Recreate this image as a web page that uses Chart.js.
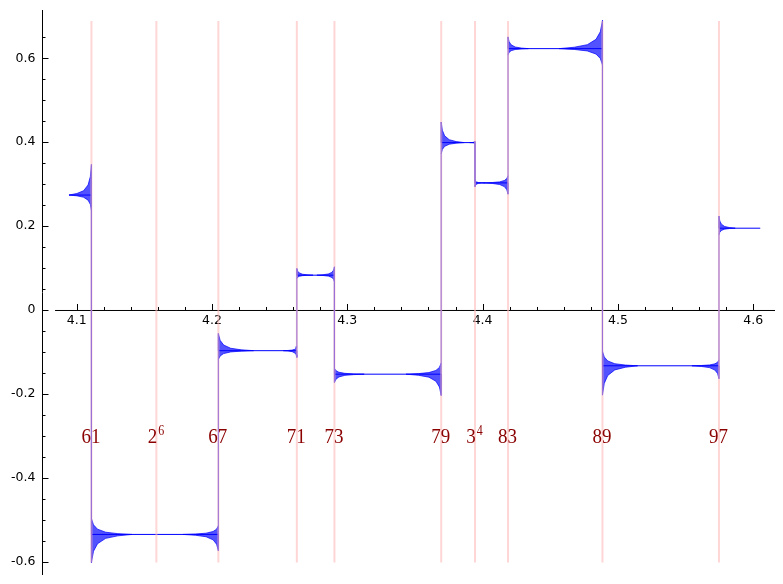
<!DOCTYPE html>
<html>
<head>
<meta charset="utf-8">
<script src="https://cdn.jsdelivr.net/npm/chart.js@4.4.1/dist/chart.umd.min.js"></script>
<style>
  html, body { margin: 0; padding: 0; background: #fff; }
</style>
</head>
<body>
<canvas id="plot" width="783" height="584"></canvas>
<script>
// x is log(n); segment edges run from log 60 to log 100
const edges = [4.0943, 4.1109, 4.2047, 4.2627, 4.2905, 4.3694, 4.3944, 4.4188, 4.4886, 4.5747, 4.6052];
const levels = [0.274, -0.535, -0.097, 0.083, -0.153, 0.399, 0.303, 0.623, -0.133, 0.195];

// ringing next to each jump (edges[1..9])
const beforeHi = [0.347, -0.514, -0.087, 0.103, -0.126, 0.402, 0.320, 0.690, -0.119];
const beforeLo = [0.237, -0.574, -0.113, 0.067, -0.204, 0.396, 0.276, 0.584, -0.164];
const beforeWidth = [0.0166, 0.026, 0.010, 0.013, 0.026, 0.004, 0.018, 0.032, 0.020];
const afterHi = [-0.497, -0.056, 0.099, -0.139, 0.448, 0.310, 0.651, -0.098, 0.224];
const afterLo = [-0.602, -0.118, 0.075, -0.173, 0.372, 0.294, 0.608, -0.203, 0.179];
const afterWidth = [0.030, 0.026, 0.012, 0.022, 0.017, 0.007, 0.015, 0.026, 0.012];
// decay profile of the ringing: [fraction of width, fraction of amplitude]
const ringShape = [[0, 1], [0.05, 0.6], [0.15, 0.33], [0.35, 0.14], [0.65, 0.05], [1, 0]];

// prime powers marked with vertical lines
const powerNames = ['61', '2^6', '67', '71', '73', '79', '3^4', '83', '89', '97'];
const powerLogs = [4.1109, 4.1589, 4.2047, 4.2627, 4.2905, 4.3694, 4.3944, 4.4188, 4.4886, 4.5747];
const markerLow = -0.602, markerHigh = 0.689, labelY = -0.3;

const xMajor = [4.1, 4.2, 4.3, 4.4, 4.5, 4.6];
const xMinor = [4.12, 4.14, 4.16, 4.18, 4.22, 4.24, 4.26, 4.28, 4.32, 4.34, 4.36, 4.38,
                4.42, 4.44, 4.46, 4.48, 4.52, 4.54, 4.56, 4.58];
const yMajor = [-0.6, -0.4, -0.2, 0, 0.2, 0.4, 0.6];
const yMinor = [-0.55, -0.5, -0.45, -0.35, -0.3, -0.25, -0.15, -0.1, -0.05, 0.05, 0.1, 0.15,
                0.25, 0.3, 0.35, 0.45, 0.5, 0.55, 0.65];
const xMin = 4.07435, xMax = 4.61611, yMin = -0.6317, yMax = 0.7151;
const xAxisFrom = 4.084;

// main step curve
const curve = [{x: edges[0], y: levels[0]}];
for (let j = 0; j < beforeHi.length; j++) {
  const x = edges[j + 1];
  curve.push({x, y: levels[j]}, {x, y: beforeHi[j]}, {x, y: beforeLo[j]},
             {x, y: afterHi[j]}, {x, y: afterLo[j]}, {x, y: levels[j + 1]});
}
curve.push({x: edges[edges.length - 1], y: levels[levels.length - 1]});

function wedge(x0, dir, level, hi, lo, w) {
  const top = ringShape.map(([f, a]) => ({x: x0 + dir * f * w, y: level + a * (hi - level)}));
  const bot = ringShape.map(([f, a]) => ({x: x0 + dir * f * w, y: level - a * (level - lo)}));
  return top.concat(bot.reverse());
}

const datasets = [];
powerLogs.forEach(x => {
  datasets.push({
    data: [{x, y: markerLow}, {x, y: markerHigh}],
    borderColor: 'rgba(255,187,187,0.6)', borderWidth: 2, order: 0
  });
});
datasets.push({data: curve, borderColor: '#0000ff', borderWidth: 1, order: 1});
beforeHi.forEach((_, j) => {
  const x = edges[j + 1];
  datasets.push({
    data: wedge(x, -1, levels[j], beforeHi[j], beforeLo[j], beforeWidth[j]),
    borderColor: 'rgba(0,0,255,0.9)', borderWidth: 0.8,
    backgroundColor: 'rgba(0,0,255,0.68)', fill: 'shape', order: 2
  });
  datasets.push({
    data: wedge(x, 1, levels[j + 1], afterHi[j], afterLo[j], afterWidth[j]),
    borderColor: 'rgba(0,0,255,0.9)', borderWidth: 0.8,
    backgroundColor: 'rgba(0,0,255,0.68)', fill: 'shape', order: 2
  });
});

function fmt(v) {
  return v === 0 ? '0' : String(Math.round(v * 10) / 10);
}

const sageAxes = {
  id: 'sageAxes',
  beforeDatasetsDraw(chart) {
    const {ctx, chartArea, scales: {x, y}} = chart;
    const y0 = y.getPixelForValue(0);
    const ax = chartArea.left;
    ctx.save();
    ctx.strokeStyle = '#000';
    ctx.lineWidth = 1;
    ctx.beginPath();
    ctx.moveTo(x.getPixelForValue(xAxisFrom), y0 + 0.5);
    ctx.lineTo(x.getPixelForValue(xMax), y0 + 0.5);
    ctx.moveTo(ax + 0.5, chartArea.top);
    ctx.lineTo(ax + 0.5, chartArea.bottom);
    xMajor.forEach(v => { const px = Math.round(x.getPixelForValue(v)) + 0.5; ctx.moveTo(px, y0); ctx.lineTo(px, y0 - 6); });
    xMinor.forEach(v => { const px = Math.round(x.getPixelForValue(v)) + 0.5; ctx.moveTo(px, y0); ctx.lineTo(px, y0 - 3); });
    yMajor.forEach(v => { const py = Math.round(y.getPixelForValue(v)) + 0.5; ctx.moveTo(ax, py); ctx.lineTo(ax + 6.5, py); });
    yMinor.forEach(v => { const py = Math.round(y.getPixelForValue(v)) + 0.5; ctx.moveTo(ax, py); ctx.lineTo(ax + 3.5, py); });
    ctx.stroke();

    ctx.fillStyle = '#000';
    ctx.font = '12.5px "DejaVu Sans"';
    ctx.textAlign = 'center';
    ctx.textBaseline = 'top';
    xMajor.forEach(v => ctx.fillText(fmt(v), x.getPixelForValue(v), y0 + 5));
    ctx.textAlign = 'right';
    ctx.textBaseline = 'middle';
    yMajor.forEach(v => ctx.fillText(fmt(v), ax - 6.5, y.getPixelForValue(v)));
    ctx.restore();
  }
};

const primeLabels = {
  id: 'primeLabels',
  afterDatasetsDraw(chart) {
    const {ctx, scales: {x, y}} = chart;
    const py = y.getPixelForValue(labelY);
    ctx.save();
    ctx.fillStyle = '#8b0000';
    ctx.textBaseline = 'alphabetic';
    ctx.textAlign = 'left';
    powerNames.forEach((name, i) => {
      const [base, sup] = name.split('^');
      const px = x.getPixelForValue(powerLogs[i]);
      ctx.font = '19px "Liberation Serif"';
      const wb = ctx.measureText(base).width;
      ctx.font = '12px "Liberation Serif"';
      const ws = sup ? ctx.measureText(sup).width + 1 : 0;
      const left = px - (wb + ws) / 2 - 0.5;
      ctx.save();
      ctx.translate(left, py + 7.5);
      ctx.scale(1, 1.15);
      ctx.font = '19px "Liberation Serif"';
      ctx.fillText(base, 0, 0);
      if (sup) {
        ctx.font = '12px "Liberation Serif"';
        ctx.fillText(sup, wb + 1, -7);
      }
      ctx.restore();
    });
    ctx.restore();
  }
};

new Chart(document.getElementById('plot').getContext('2d'), {
  type: 'line',
  data: {datasets},
  options: {
    responsive: false,
    animation: false,
    layout: {padding: {left: 42, right: 8, top: 10, bottom: 9}},
    scales: {
      x: {type: 'linear', min: xMin, max: xMax, display: false},
      y: {type: 'linear', min: yMin, max: yMax, display: false}
    },
    elements: {point: {radius: 0}, line: {tension: 0}},
    plugins: {legend: {display: false}, tooltip: {enabled: false}}
  },
  plugins: [sageAxes, primeLabels]
});
</script>
</body>
</html>
